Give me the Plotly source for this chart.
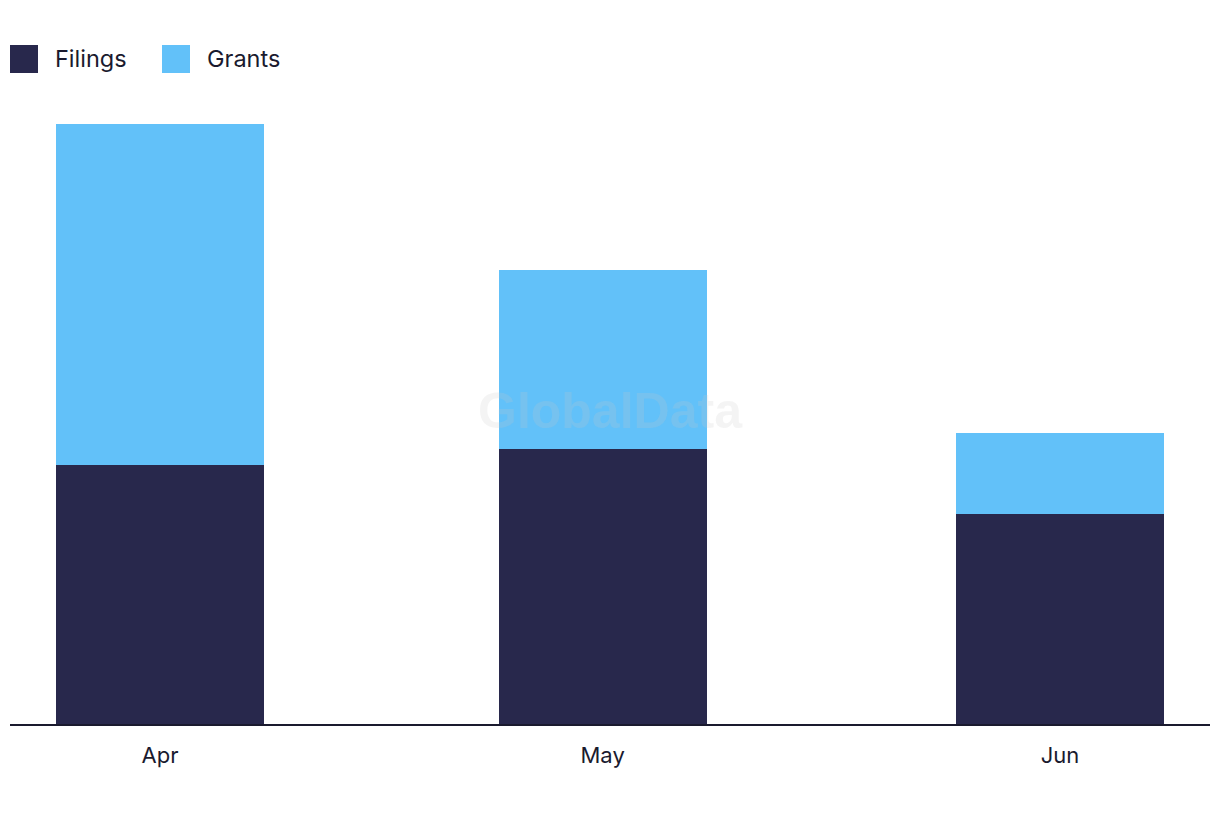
import plotly.graph_objects as go

months = ["2024-04-01", "2024-05-01", "2024-06-01"]
month_labels = ["Apr", "May", "Jun"]
filings = [43.2, 45.8, 35.0]
grants = [56.8, 29.9, 13.5]

series_names = ["Filings", "Grants"]
colors = ["#28284C", "#62C1F9"]

DAY_MS = 86400000
bar_width = 14.1 * DAY_MS

PLOT_TOP, PLOT_BOTTOM = 100, 724
PH = PLOT_BOTTOM - PLOT_TOP


def py(ypx):
    return (PLOT_BOTTOM - ypx) / PH


def px(xpx):
    return (xpx - 10) / 1200


fig = go.Figure()
for name, vals, col in zip(series_names, [filings, grants], colors):
    fig.add_trace(go.Bar(
        x=months, y=vals, name=name, marker=dict(color=col, line=dict(width=0)),
        width=[bar_width] * len(months), showlegend=False,
        hovertemplate="%{x|%b}: %{y}<extra>" + name + "</extra>",
    ))

# custom legend (large swatches)
legend_x = [10, 162]
for i, (name, col) in enumerate(zip(series_names, colors)):
    x0 = legend_x[i]
    fig.add_shape(type="rect", xref="paper", yref="paper",
                  x0=px(x0), x1=px(x0 + 28), y0=py(73), y1=py(45),
                  fillcolor=col, line=dict(width=0), layer="above")
    fig.add_annotation(text=name, xref="paper", yref="paper",
                       x=px(x0 + 43), y=py(58),
                       xanchor="left", yanchor="middle", showarrow=False,
                       font=dict(size=23.5, color="#1a1a2e", family="Inter, Roboto, sans-serif"))

fig.add_annotation(text="<b>GlobalData</b>", xref="paper", yref="paper",
                   x=px(610), y=py(411), showarrow=False,
                   font=dict(size=50, color="rgba(200,200,200,0.2)", family="Liberation Sans, Arial, sans-serif"))

fig.update_layout(
    width=1220, height=822,
    margin=dict(l=10, r=10, t=PLOT_TOP, b=822 - PLOT_BOTTOM),
    barmode="stack",
    plot_bgcolor="white", paper_bgcolor="white",
    font=dict(family="Inter, Roboto, sans-serif", color="#1a1a2e"),
    xaxis=dict(
        type="date",
        range=["2024-03-21 20:00", "2024-06-11 04:00"],
        tickvals=months, ticktext=month_labels,
        tickfont=dict(size=22, color="#1a1a2e"),
        showgrid=False, zeroline=False,
        showline=True, linecolor="#1a1a2e", linewidth=2,
        ticks="", ticklabelstandoff=11,
    ),
    yaxis=dict(
        range=[0, PH / 6.0],
        visible=False, showgrid=False, zeroline=False,
    ),
    bargap=0,
)

fig.write_html("out.html")
